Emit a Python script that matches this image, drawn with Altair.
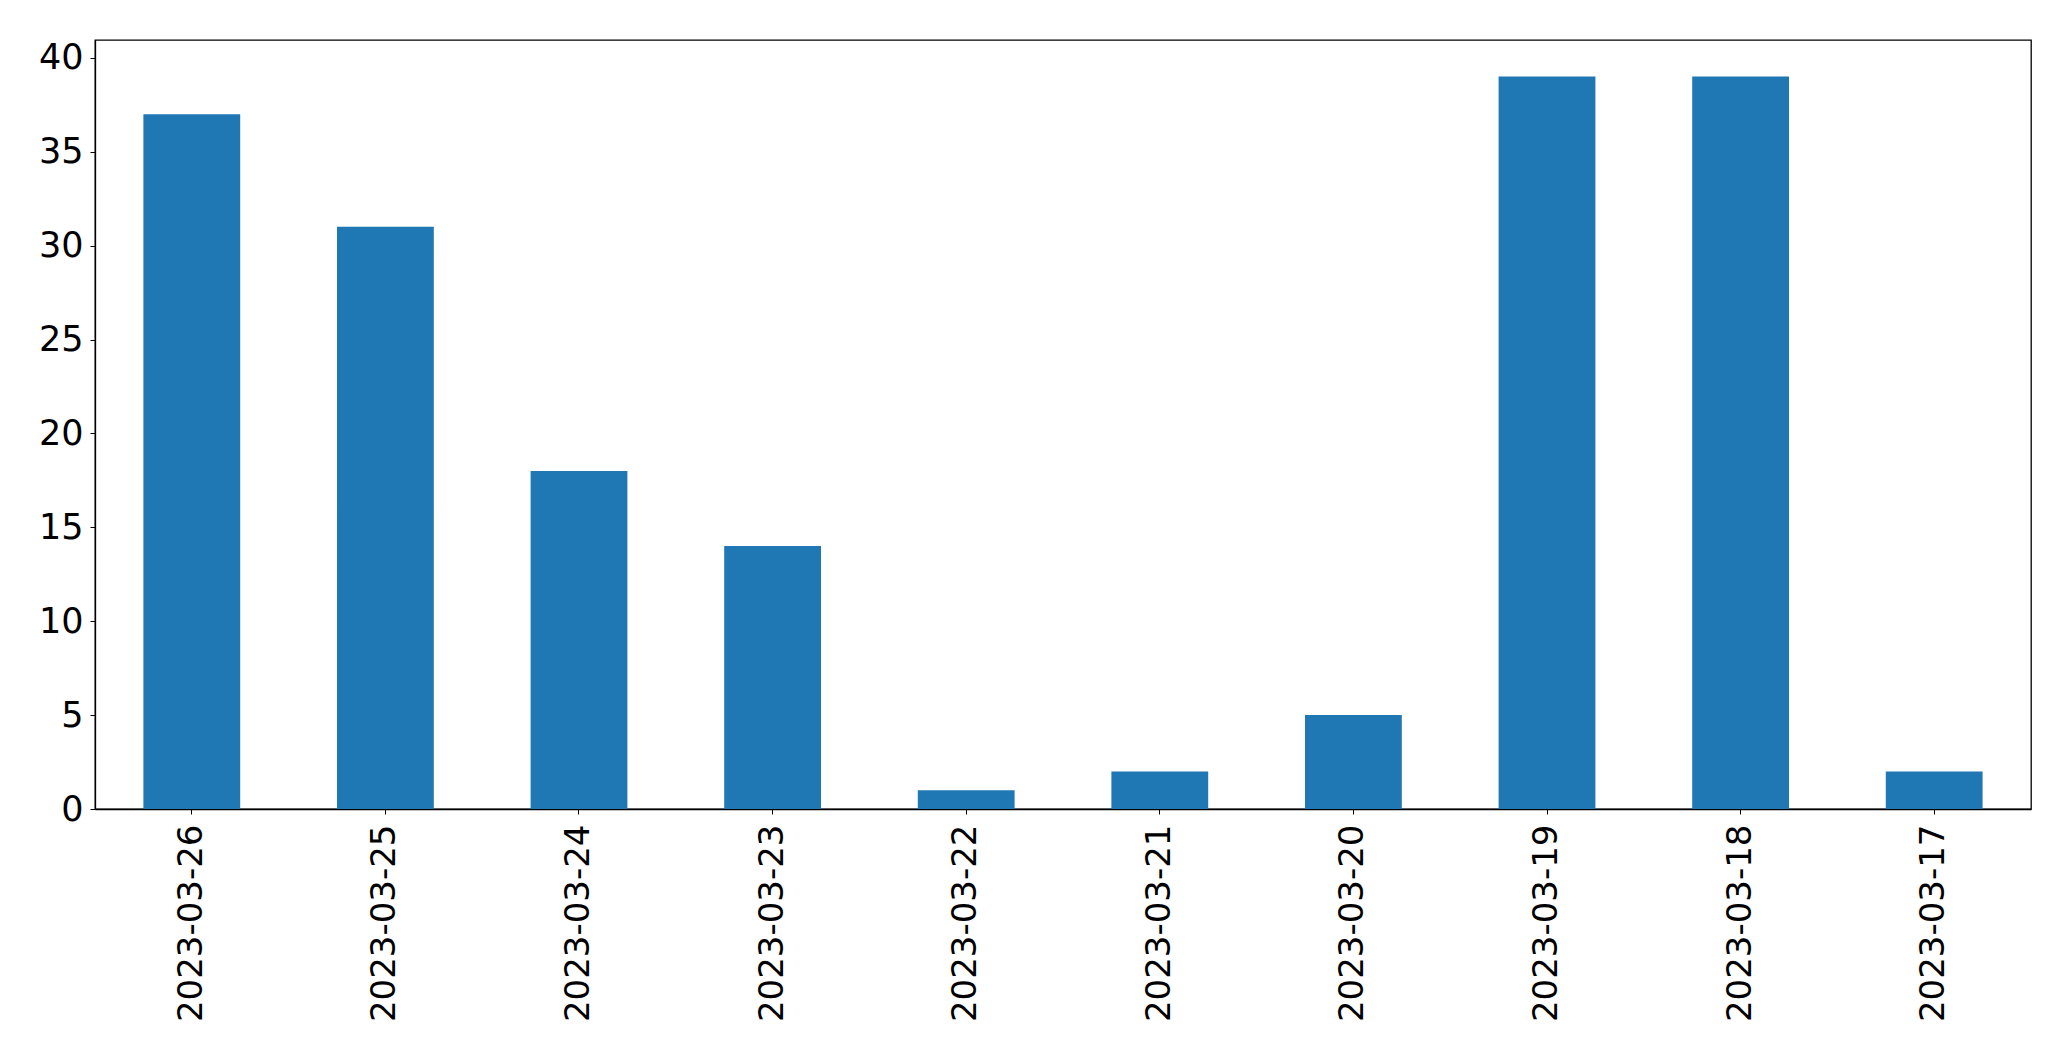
import altair as alt
import pandas as pd

dates = ["2023-03-26", "2023-03-25", "2023-03-24", "2023-03-23", "2023-03-22",
         "2023-03-21", "2023-03-20", "2023-03-19", "2023-03-18", "2023-03-17"]
counts = [37, 31, 18, 14, 1, 2, 5, 39, 39, 2]
y_ticks = [0, 5, 10, 15, 20, 25, 30, 35, 40]

df = pd.DataFrame({"date": dates, "count": counts})

chart = alt.Chart(df).mark_bar(color="#1f77b4").encode(
    x=alt.X("date:N", sort=dates, title=None,
            scale=alt.Scale(paddingInner=0.5, paddingOuter=0.25),
            axis=alt.Axis(labelAngle=270, labelAlign="right", labelBaseline="middle",
                          labelFontSize=34, labelFont="DejaVu Sans", labelColor="black",
                          labelLimit=500,
                          tickSize=5, tickColor="black", labelPadding=10,
                          domainColor="black", domainWidth=1.3, grid=False)),
    y=alt.Y("count:Q", title=None,
            scale=alt.Scale(domain=[0, 40.95], nice=False),
            axis=alt.Axis(values=y_ticks, labelFontSize=35, labelFont="DejaVu Sans",
                          labelColor="black", tickSize=5, tickColor="black",
                          labelPadding=7, domainColor="black", domainWidth=1.3,
                          grid=False)),
).properties(
    width=1936, height=769,
    autosize=alt.AutoSizeParams(type="none"),
    padding={"left": 87, "top": 32, "right": 30, "bottom": 240},
).configure_view(stroke="black", strokeWidth=1.3)

chart.save("out.html", embed_options={"renderer": "svg", "actions": False})
